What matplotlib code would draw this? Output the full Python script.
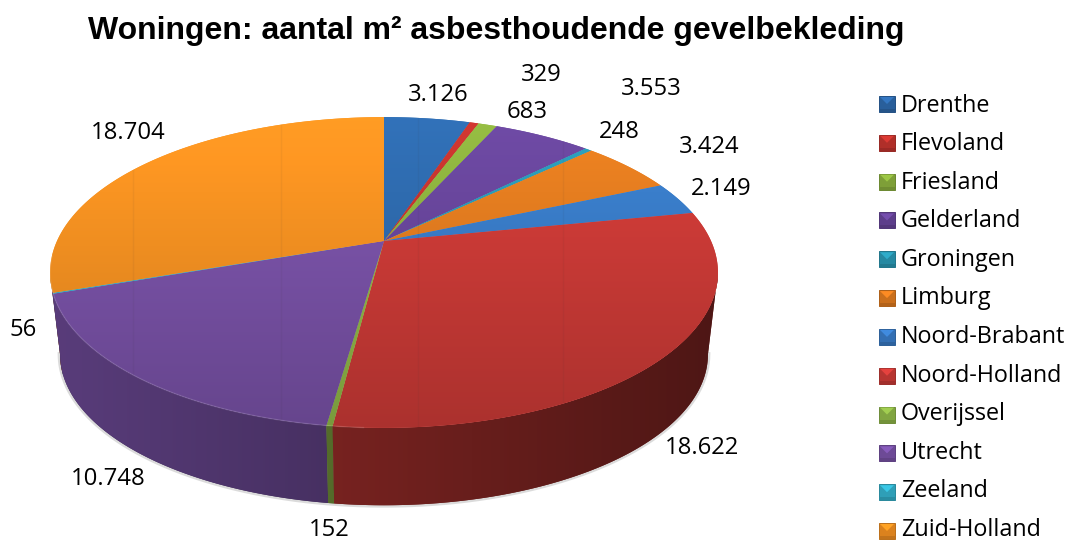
import numpy as np
import matplotlib
matplotlib.use("Agg")
import matplotlib.pyplot as plt
from matplotlib.patches import Polygon, Rectangle

provinces = ["Drenthe", "Flevoland", "Friesland", "Gelderland", "Groningen", "Limburg",
             "Noord-Brabant", "Noord-Holland", "Overijssel", "Utrecht", "Zeeland", "Zuid-Holland"]
values = [3126, 329, 683, 3553, 248, 3424, 2149, 18622, 152, 10748, 56, 18704]
value_labels = ["3.126", "329", "683", "3.553", "248", "3.424",
                "2.149", "18.622", "152", "10.748", "56", "18.704"]
colors = ["#2f6cb0", "#c8352f", "#8fb540", "#6a479e", "#2b9cb8", "#e67e20",
          "#3a7ecb", "#d03c38", "#93bb4a", "#7c54ab", "#35b5d0", "#f99422"]
label_pos = [(438, 95), (541, 75), (527, 112), (651, 89), (619, 132), (709, 147),
             (721, 189), (702, 448), (329, 530), (108, 479), (23, 330), (128, 133)]

CX, CY = 384, 241
SX, SY, K = 327, 149, 0.2026
DEPTH, BOTTOM_SCALE = 83, 0.97
LABEL_FONT = "Open Sans"
UTRECHT = provinces.index("Utrecht")
# angles where the disc outline turns vertical, the wall is only seen between them
THETA_R = np.arccos(-K)
THETA_L = 2 * np.pi - THETA_R


def project(theta, scale=1.0, dy=0.0):
    # theta clockwise from 12 o'clock, perspective tilt of the pie disc
    u, v = np.sin(theta), np.cos(theta)
    w = 1 + K * v
    return CX + scale * SX * u / w, CY - scale * SY * v / w + dy


def shade(color, f):
    rgb = np.array(matplotlib.colors.to_rgb(color))
    return np.clip(rgb * f, 0, 1)


fig = plt.figure(figsize=(10.68, 5.42), dpi=100)
ax = fig.add_axes([0, 0, 1, 1])
ax.axis("off")

fractions = np.array(values) / sum(values)
edges = np.concatenate([[0], np.cumsum(fractions)]) * 2 * np.pi

# soft shadow below the side wall
t_all = np.linspace(THETA_R, THETA_L, 200)
sx, sy = project(t_all, BOTTOM_SCALE, DEPTH)
ax.plot(sx, sy, color="0.45", alpha=0.25, lw=3.5, zorder=1)

# side wall, a horizontal gradient clipped to each slice, back slices first
wall_ramp = np.linspace(0.72, 0.37, 256)
for i in reversed(range(len(colors))):
    start, end = max(edges[i], THETA_R), min(edges[i + 1], THETA_L)
    if start >= end:
        continue
    top_end, bottom_end = end, end
    if i == UTRECHT:
        # the wall of this slice runs up to the silhouette in the original
        top_end, bottom_end = end + np.radians(2), THETA_L
    xa, ya = project(np.linspace(start, top_end, 120))
    xb, yb = project(np.linspace(start, bottom_end, 120), BOTTOM_SCALE, DEPTH)
    verts = np.column_stack([np.r_[xa, xb[::-1]], np.r_[ya, yb[::-1]]])
    poly = Polygon(verts, closed=True, facecolor=shade(colors[i], 0.5), edgecolor="none", zorder=2 + 0.01 * (11 - i))
    ax.add_patch(poly)
    grad = np.clip(wall_ramp[None, :, None] * np.array(matplotlib.colors.to_rgb(colors[i]))[None, None, :], 0, 1)
    im = ax.imshow(grad, extent=(45, 725, 520, 240), aspect="auto", interpolation="bilinear",
                   zorder=2 + 0.01 * (11 - i))
    im.set_clip_path(poly)

# top surface, each slice clipped out of a vertical gradient
ramp = np.linspace(1.06, 0.82, 256)[:, None]
for i, color in enumerate(colors):
    ts = np.linspace(edges[i], edges[i + 1], max(3, int((edges[i + 1] - edges[i]) / 0.005)))
    xs, ys = project(ts)
    verts = np.column_stack([np.r_[CX, xs], np.r_[CY, ys]])
    poly = Polygon(verts, closed=True, facecolor=color, edgecolor="none", zorder=3)
    ax.add_patch(poly)
    grad = np.clip(ramp[:, :, None] * np.array(matplotlib.colors.to_rgb(color))[None, None, :], 0, 1)
    im = ax.imshow(grad, extent=(40, 730, 432, 112), aspect="auto", interpolation="bilinear", zorder=3.1)
    im.set_clip_path(poly)

# faint seams of the original bitmap
rim = Polygon(np.column_stack(project(np.linspace(0, 2 * np.pi, 300))), closed=True, visible=False)
ax.add_patch(rim)
for seam_x in [133, 281, 418, 563]:
    seam = ax.plot([seam_x, seam_x], [110, 510], color="0.2", alpha=0.06, lw=1, zorder=4)[0]
    seam.set_clip_path(rim)

# light rim along the front edge of the purple slice
t_rim = np.linspace(np.pi + 0.05, 3 * np.pi / 2 - 0.1, 200)
rx, ry = project(t_rim)
ax.plot(rx, ry, color="white", alpha=0.12, lw=1, zorder=5)

for text, (x, y) in zip(value_labels, label_pos):
    ax.text(x, y, text, ha="center", va="center", fontsize=17.2, family=LABEL_FONT, color="black", zorder=6)

# legend
legend_y = np.linspace(104, 531, len(provinces))
legend_text_y = np.linspace(105.5, 530, len(provinces))
for name, color, y, text_y in zip(provinces, colors, legend_y, legend_text_y):
    x0, size = 879, 16
    ax.add_patch(Rectangle((x0, y - 8), size, size, facecolor=shade(color, 0.88),
                           edgecolor=shade(color, 0.75), lw=0.7, zorder=5))
    ax.add_patch(Polygon([(x0 + 1, y - 7), (x0 + size - 1, y - 7), (x0 + size / 2, y)], closed=True,
                         facecolor=shade(color, 1.1), edgecolor="none", zorder=6))
    ax.add_patch(Rectangle((x0, y + 5), size, 3, facecolor=shade(color, 0.78), edgecolor="none", zorder=6))
    ax.text(901, text_y, name, ha="left", va="center", fontsize=16.8, family=LABEL_FONT, color="black", zorder=6)

ax.text(88, 31, "Woningen: aantal m\u00b2 asbesthoudende gevelbekleding", ha="left", va="center",
        fontsize=23, fontweight="bold", family="Liberation Sans", color="black")

ax.set_xlim(0, 1068)
ax.set_ylim(542, 0)
fig.savefig("out.png", dpi=100)
